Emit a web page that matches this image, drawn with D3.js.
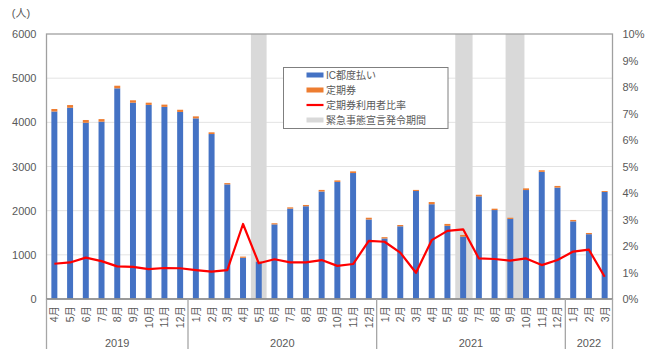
<!DOCTYPE html>
<html>
<head>
<meta charset="utf-8">
<script src="https://cdn.jsdelivr.net/npm/d3@7"></script>
<style>
  html, body { margin: 0; padding: 0; background: #fff; }
  svg { display: block; font-family: "Liberation Sans", Arial, "Noto Sans CJK JP", sans-serif; }
</style>
</head>
<body>
<svg id="chart" width="651" height="349"></svg>
<script>
// Monthly passengers, April 2019 – March 2022
const months = ["4月","5月","6月","7月","8月","9月","10月","11月","12月",
  "1月","2月","3月","4月","5月","6月","7月","8月","9月","10月","11月","12月",
  "1月","2月","3月","4月","5月","6月","7月","8月","9月","10月","11月","12月",
  "1月","2月","3月"];
const years = [
  { label: "2019", from: 0, to: 9 },
  { label: "2020", from: 9, to: 21 },
  { label: "2021", from: 21, to: 33 },
  { label: "2022", from: 33, to: 36 }
];
// IC都度払い (people)
const icValues = [4245, 4330, 3990, 4015, 4770, 4445, 4395, 4350, 4235,
  4090, 3735, 2595, 933, 839, 1689, 2046, 2100, 2434, 2651, 2852, 1800,
  1370, 1646, 2446, 2146, 1656, 1412, 2324, 2014, 1813, 2467, 2878, 2522,
  1758, 1467, 2424];
// 定期券 (people)
const teikiValues = [57, 61, 63, 58, 59, 54, 50, 51, 50,
  45, 39, 29, 27, 11, 26, 29, 29, 36, 34, 38, 40,
  30, 29, 24, 49, 44, 38, 36, 31, 27, 38, 37, 38,
  32, 28, 21];
// 定期券利用者比率 (%)
const ratioValues = [1.33, 1.38, 1.56, 1.43, 1.23, 1.21, 1.13, 1.17, 1.16,
  1.09, 1.03, 1.09, 2.83, 1.35, 1.50, 1.38, 1.38, 1.47, 1.25, 1.32, 2.19,
  2.16, 1.75, 0.99, 2.22, 2.57, 2.63, 1.53, 1.51, 1.45, 1.53, 1.28, 1.47,
  1.79, 1.86, 0.84];
// 緊急事態宣言発令期間, in month positions from April 2019
const emergencyPeriods = [[13, 14], [26, 27.1], [29.2, 30.4]];
const leftTicks = [0, 1000, 2000, 3000, 4000, 5000, 6000];
const rightTicks = [0, 1, 2, 3, 4, 5, 6, 7, 8, 9, 10];

const svg = d3.select("#chart");
const L = 46.5, R = 612.5, T = 34, B = 299;
const textColor = "#595959";
const axisColor = "#a6a6a6";

const x = d3.scaleBand().domain(d3.range(months.length)).range([L, R])
  .paddingInner(0.62).paddingOuter(0.31);
const xPos = d3.scaleLinear().domain([0, months.length]).range([L, R]);
const y = d3.scaleLinear().domain([0, 6000]).range([B, T]);
const y2 = d3.scaleLinear().domain([0, 10]).range([B, T]);

// gridlines
svg.append("g").selectAll("line").data(leftTicks.slice(1, -1)).join("line")
  .attr("x1", L).attr("x2", R)
  .attr("y1", d => y(d)).attr("y2", d => y(d))
  .attr("stroke", "#e3e3e3").attr("stroke-width", 1);

// emergency bands
svg.append("g").selectAll("rect").data(emergencyPeriods).join("rect")
  .attr("x", d => xPos(d[0])).attr("width", d => xPos(d[1]) - xPos(d[0]))
  .attr("y", T).attr("height", B - T)
  .attr("fill", "#d9d9d9");

// stacked bars
const bars = svg.append("g");
bars.selectAll("rect.ic").data(icValues).join("rect").attr("class", "ic")
  .attr("x", (d, i) => x(i)).attr("width", x.bandwidth())
  .attr("y", d => y(d)).attr("height", d => B - y(d))
  .attr("fill", "#4472c4");
bars.selectAll("rect.teiki").data(teikiValues).join("rect").attr("class", "teiki")
  .attr("x", (d, i) => x(i)).attr("width", x.bandwidth())
  .attr("y", (d, i) => y(icValues[i] + d))
  .attr("height", (d, i) => y(icValues[i]) - y(icValues[i] + d))
  .attr("fill", "#ed7d31");

// plot frame
svg.append("rect").attr("x", L).attr("y", T).attr("width", R - L).attr("height", B - T)
  .attr("fill", "none").attr("stroke", "#a0a0a0").attr("stroke-width", 1.3);
svg.append("line").attr("x1", L).attr("x2", R).attr("y1", B).attr("y2", B)
  .attr("stroke", "#8c8c8c").attr("stroke-width", 1.3);

// ratio line
const line = d3.line().x((d, i) => x(i) + x.bandwidth() / 2).y(d => y2(d));
svg.append("path").datum(ratioValues).attr("d", line)
  .attr("fill", "none").attr("stroke", "#ff0000").attr("stroke-width", 2.2)
  .attr("stroke-linejoin", "round");

// left axis
const leftAxis = svg.append("g").attr("transform", `translate(${L},0)`)
  .call(d3.axisLeft(y).tickValues(leftTicks).tickSize(0).tickPadding(10).tickFormat(d3.format("d")));
leftAxis.select(".domain").remove();
leftAxis.selectAll("text").attr("fill", textColor).style("font-size", "11px");

// right axis
const rightAxis = svg.append("g").attr("transform", `translate(${R},0)`)
  .call(d3.axisRight(y2).tickValues(rightTicks).tickSize(0).tickPadding(10).tickFormat(d => d + "%"));
rightAxis.select(".domain").remove();
rightAxis.selectAll("text").attr("fill", textColor).style("font-size", "11px");

svg.append("text").attr("x", 21).attr("y", 17).attr("text-anchor", "middle")
  .attr("fill", textColor).style("font-size", "11px").text("(人)");

// month labels
svg.append("g").selectAll("text").data(months).join("text")
  .attr("transform", (d, i) => `translate(${x(i) + x.bandwidth() / 2 + 4},306) rotate(-90)`)
  .attr("text-anchor", "end").attr("fill", textColor).style("font-size", "10.5px")
  .text(d => d);

// year groups
const yearG = svg.append("g");
const seps = [0].concat(years.map(d => d.to));
yearG.selectAll("line").data(seps).join("line")
  .attr("x1", d => xPos(d)).attr("x2", d => xPos(d))
  .attr("y1", B).attr("y2", 349)
  .attr("stroke", axisColor).attr("stroke-width", 1.3);
yearG.selectAll("text").data(years).join("text")
  .attr("x", d => (xPos(d.from) + xPos(d.to)) / 2).attr("y", 347)
  .attr("text-anchor", "middle").attr("fill", textColor).style("font-size", "11px")
  .text(d => d.label);

// legend
const lg = svg.append("g");
lg.append("rect").attr("x", 283.5).attr("y", 67.5).attr("width", 164.5).attr("height", 61)
  .attr("fill", "#fff").attr("stroke", "#7f7f7f").attr("stroke-width", 1);
const items = [
  { name: "IC都度払い", type: "rect", color: "#4472c4" },
  { name: "定期券", type: "rect", color: "#ed7d31" },
  { name: "定期券利用者比率", type: "line", color: "#ff0000" },
  { name: "緊急事態宣言発令期間", type: "rect", color: "#d9d9d9" }
];
items.forEach((it, i) => {
  const cy = 75 + i * 15;
  if (it.type === "rect") {
    lg.append("rect").attr("x", 306.5).attr("y", cy - 2.5).attr("width", 17).attr("height", 5)
      .attr("fill", it.color);
  } else {
    lg.append("line").attr("x1", 306.5).attr("x2", 323.5).attr("y1", cy).attr("y2", cy)
      .attr("stroke", it.color).attr("stroke-width", 2.2);
  }
  lg.append("text").attr("x", 326).attr("y", cy + 4).attr("fill", textColor)
    .style("font-size", "10px").text(it.name);
});
</script>
</body>
</html>
